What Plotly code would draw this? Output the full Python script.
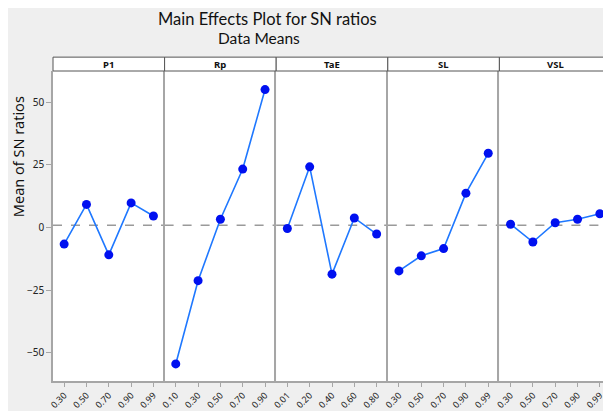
import plotly.graph_objects as go
from plotly.subplots import make_subplots

factors = ["P1", "Rp", "TaE", "SL", "VSL"]
levels_P1 = ["0.30", "0.50", "0.70", "0.90", "0.99"]
levels_Rp = ["0.10", "0.30", "0.50", "0.70", "0.90"]
levels_TaE = ["0.01", "0.20", "0.40", "0.60", "0.80"]
levels_SL = ["0.30", "0.50", "0.70", "0.90", "0.99"]
levels_VSL = ["0.30", "0.50", "0.70", "0.90", "0.99"]

sn_P1 = [-6.6, 9.2, -10.9, 9.8, 4.6]
sn_Rp = [-54.4, -21.2, 3.3, 23.3, 55.0]
sn_TaE = [-0.4, 24.2, -18.6, 3.8, -2.6]
sn_SL = [-17.3, -11.3, -8.4, 13.7, 29.6]
sn_VSL = [1.3, -5.8, 1.9, 3.3, 5.5]

grand_mean = 0.9
y_ticks = [-50, -25, 0, 25, 50]

levels = [levels_P1, levels_Rp, levels_TaE, levels_SL, levels_VSL]
values = [sn_P1, sn_Rp, sn_TaE, sn_SL, sn_VSL]

# page is offset by the 8px body margin
OFF = 8
W, H = 611 - OFF, 411 - OFF
L, R, T, B = 53 - OFF, 0, 71 - OFF, 411 - 384
PW, PH = W - L - R, H - T - B

def px(x):  # page pixel -> paper
    return (x - OFF - L) / PW

def py(y):
    return (H - B - (y - OFF)) / PH

FONT = "Noto Sans"
fig = make_subplots(rows=1, cols=5, shared_yaxes=False, horizontal_spacing=0)

for i, (lv, vals) in enumerate(zip(levels, values)):
    fig.add_trace(go.Scatter(
        x=lv, y=vals, mode="lines+markers",
        line=dict(color="#1f78ff", width=1.6),
        marker=dict(color="#0010f0", size=9),
        showlegend=False, hoverinfo="x+y"), row=1, col=i + 1)

axis_gray = "#a6a6a6"
for i in range(5):
    n = "" if i == 0 else str(i + 1)
    fig.layout["xaxis" + n].update(
        type="category", range=[-0.5, 4.5], showgrid=False, zeroline=False,
        showline=True, linecolor=axis_gray, linewidth=1.5,
        ticks="outside", ticklen=4, tickcolor=axis_gray, tickangle=-45,
        tickfont=dict(size=9, color="#222", family=FONT), fixedrange=True)
    fig.layout["yaxis" + n].update(
        range=[-61.2, 62.4], showgrid=False, zeroline=False,
        showline=True, linecolor=axis_gray, linewidth=1.5,
        tickvals=y_ticks if i == 0 else [],
        ticks="outside" if i == 0 else "", ticklen=5, tickcolor=axis_gray,
        showticklabels=(i == 0),
        tickfont=dict(size=10, color="#222", family=FONT), fixedrange=True)
    xr = "x" + n
    fig.add_shape(type="line", xref=xr + " domain", yref="y" + n,
                  x0=0, x1=1, y0=grand_mean, y1=grand_mean,
                  line=dict(color="#9a9a9a", width=1.5, dash="dash"), layer="below")
    fig.add_shape(type="rect", xref=xr + " domain", yref="paper",
                  x0=0, x1=1, y0=1, y1=1 + 14 / PH,
                  fillcolor="white", line=dict(color="#555", width=1))
    fig.add_annotation(text="<b>" + factors[i] + "</b>", xref=xr + " domain", yref="paper",
                       x=0.5, y=1 + 7 / PH, showarrow=False,
                       font=dict(size=9.5, color="#111", family=FONT),
                       xanchor="center", yanchor="middle")

fig.add_annotation(text="Main Effects Plot for SN ratios", xref="paper", yref="paper",
                   x=px(267), y=py(19), showarrow=False,
                   font=dict(size=16.5, color="#111", family="Lato"),
                   xanchor="center", yanchor="middle")
fig.add_annotation(text="Data Means", xref="paper", yref="paper",
                   x=px(259), y=py(38), showarrow=False,
                   font=dict(size=15.5, color="#111", family="Lato"),
                   xanchor="center", yanchor="middle")
fig.add_annotation(text="Mean of SN ratios", xref="paper", yref="paper",
                   x=px(18), y=py(158), showarrow=False, textangle=-90,
                   font=dict(size=14.5, color="#111", family=FONT),
                   xanchor="center", yanchor="middle")

fig.update_layout(
    width=W, height=H, margin=dict(l=L, r=R, t=T, b=B),
    paper_bgcolor="#efefef", plot_bgcolor="white",
    font=dict(family=FONT),
)

fig.write_html("out.html")
